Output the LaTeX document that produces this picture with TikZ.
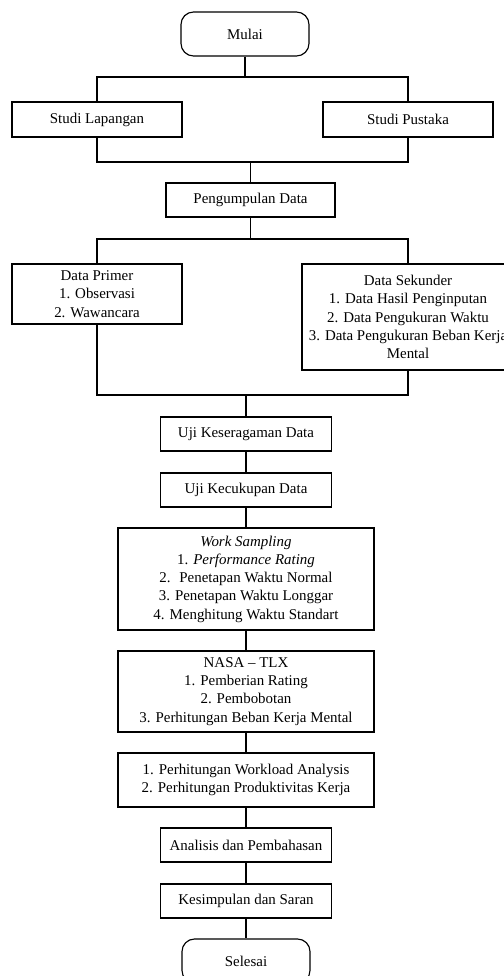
\documentclass[tikz,border=0pt]{standalone}
\usepackage{fontspec}
\setmainfont{Liberation Serif}
\begin{document}
\begin{tikzpicture}[line width=0.65pt,
		every node/.style={font=\fontsize{8.5}{10.4}\selectfont, align=center, inner sep=0pt},
		kotak/.style={draw, rectangle},
		terminal/.style={draw, rectangle, rounded corners=0.25cm, minimum width=2.56cm, minimum height=0.88cm}]
		\useasboundingbox (0,0) rectangle (10.08,-19.52);
		
		% Awal dan studi
		\node[terminal] (mulai) at (4.9,-0.68) {Mulai};
		\node[kotak, minimum width=3.4cm, minimum height=0.7cm] (lapangan) at (1.94,-2.39) {Studi Lapangan};
		\node[kotak, minimum width=3.4cm, minimum height=0.7cm] (pustaka) at (8.16,-2.39) {Studi Pustaka};
		\node[kotak, minimum width=3.38cm, minimum height=0.68cm] (kumpul) at (5.01,-4.0) {Pengumpulan Data};
		
		% Jenis data
		\node[kotak, minimum width=3.4cm, minimum height=1.2cm] (primer) at (1.94,-5.88) {Data Primer\\1. Observasi\\2. Wawancara};
		\node[kotak, minimum width=4.24cm, minimum height=2.12cm] (sekunder) at (8.16,-6.34) {Data Sekunder\\1. Data Hasil Penginputan\\2. Data Pengukuran Waktu\\3. Data Pengukuran Beban Kerja\\Mental};
		
		% Pengolahan
		\node[kotak, minimum width=3.42cm, minimum height=0.68cm] (uji1) at (4.92,-8.68) {Uji Keseragaman Data};
		\node[kotak, minimum width=3.42cm, minimum height=0.68cm] (uji2) at (4.92,-9.8) {Uji Kecukupan Data};
		\node[kotak, minimum width=5.12cm, minimum height=2.04cm] (ws) at (4.92,-11.58) {\textit{Work Sampling}\\1. \textit{Performance Rating}\\2.~ Penetapan Waktu Normal\\3. Penetapan Waktu Longgar\\4. Menghitung Waktu Standart};
		\node[kotak, minimum width=5.12cm, minimum height=1.62cm] (nasa) at (4.92,-13.83) {NASA -- TLX\\1. Pemberian Rating\\2. Pembobotan\\3. Perhitungan Beban Kerja Mental};
		\node[kotak, minimum width=5.12cm, minimum height=1.08cm] (hitung) at (4.92,-15.6) {1. Perhitungan Workload Analysis\\2. Perhitungan Produktivitas Kerja};
		\node[kotak, minimum width=3.42cm, minimum height=0.68cm] (analisis) at (4.92,-16.9) {Analisis dan Pembahasan};
		\node[kotak, minimum width=3.42cm, minimum height=0.68cm] (simpul) at (4.92,-18.02) {Kesimpulan dan Saran};
		\node[terminal] (selesai) at (4.92,-19.22) {Selesai};
		
		% Titik cabang
		\coordinate (j1) at (4.9,-1.54);
		\coordinate (j2) at (5.01,-3.24);
		\coordinate (j3) at (5.01,-4.78);
		\coordinate (j4) at (4.92,-7.9);
		
		\draw (mulai) -- (j1);
		\draw (lapangan) |- (j1) -| (pustaka);
		\draw (lapangan) |- (j2) -| (pustaka);
		\draw (j2) -- (kumpul);
		\draw (kumpul) -- (j3);
		\draw (primer) |- (j3) -| (sekunder);
		\draw (primer) |- (j4) -| (sekunder);
		\draw (j4) -- (uji1);
		
		\draw (uji1) -- (uji2) -- (ws) -- (nasa) -- (hitung) -- (analisis) -- (simpul) -- (selesai);
		
	\end{tikzpicture}
\end{document}
